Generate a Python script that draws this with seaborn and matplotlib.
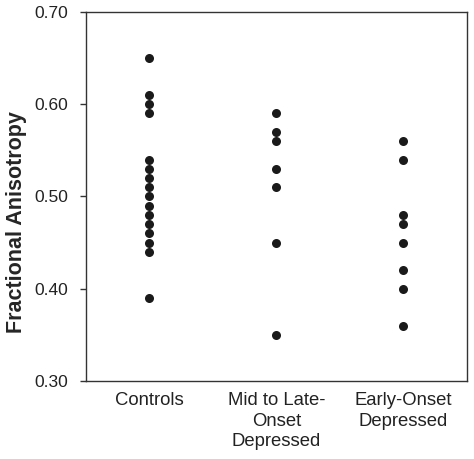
import numpy as np
import pandas as pd
import seaborn as sns
import matplotlib.pyplot as plt

groups = ["Controls", "Mid to Late-\nOnset\nDepressed", "Early-Onset\nDepressed"]
controls = [0.65, 0.61, 0.60, 0.59, 0.54, 0.53, 0.52, 0.51, 0.50, 0.49,
            0.48, 0.47, 0.46, 0.45, 0.44, 0.39]
mid_late = [0.59, 0.57, 0.56, 0.53, 0.51, 0.45, 0.35]
early = [0.56, 0.54, 0.48, 0.47, 0.45, 0.42, 0.40, 0.36]
yticks = [0.30, 0.40, 0.50, 0.60, 0.70]

df = pd.DataFrame({
    "group": [groups[0]] * len(controls) + [groups[1]] * len(mid_late) + [groups[2]] * len(early),
    "fa": controls + mid_late + early,
})

sns.set_style("white")
plt.rcParams['font.family'] = ['Liberation Sans', 'DejaVu Sans']

fig = plt.figure(figsize=(4.74, 4.59), dpi=100)
ax = fig.add_axes([0.1814, 0.170, 0.8038, 0.804])

sns.stripplot(data=df, x="group", y="fa", order=groups, jitter=False,
              color="#1a1a1a", size=6.5, linewidth=0, ax=ax)

ax.set_xlim(-0.5, 2.5)
ax.set_ylim(0.30, 0.70)
ax.set_yticks(yticks)
ax.set_yticklabels([f"{v:.2f}" for v in yticks])
ax.set_xlabel("")
ax.set_ylabel("Fractional Anisotropy", fontsize=15.5, fontweight="bold")
ax.yaxis.set_label_coords(-0.155, 0.431)

for s in ax.spines.values():
    s.set_color("#333333")
    s.set_linewidth(1.0)

ax.tick_params(axis="y", which="major", direction="out", length=4.5, width=1,
               color="#333333", labelsize=12.5, labelcolor="#222222", pad=8.5, left=True)
ax.tick_params(axis="x", length=0, labelsize=13.3, labelcolor="#222222", pad=8)
for lbl in ax.get_xticklabels():
    lbl.set_linespacing(1.27)

plt.savefig("out.png", dpi=100)
plt.close()
